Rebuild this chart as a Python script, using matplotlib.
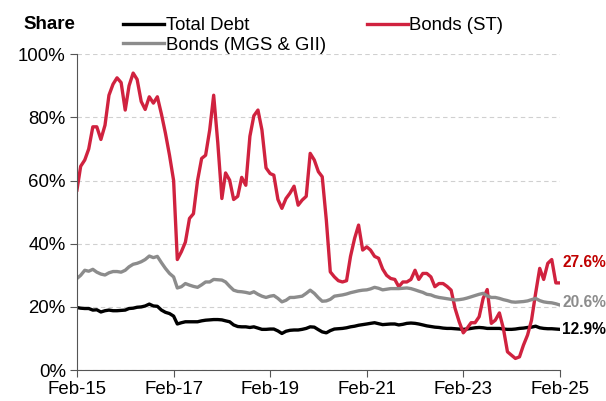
import matplotlib.pyplot as plt
import numpy as np
import pandas as pd
from matplotlib.ticker import FuncFormatter

plt.rcParams["font.family"] = ["Liberation Sans", "DejaVu Sans"]

# monthly shares (%), Feb-15 .. Feb-25
dates = pd.date_range("2015-02-01", periods=121, freq="MS")

total_debt = [
    19.8, 19.6, 19.5, 19.5, 19.0, 19.1, 18.4, 18.8, 19.0, 18.8, 18.8, 18.9,
    19.0, 19.5, 19.6, 19.9, 20.0, 20.3, 20.9, 20.3, 20.2, 19.0, 18.3, 17.9,
    17.1, 14.6, 15.0, 15.3, 15.3, 15.3, 15.3, 15.6, 15.8, 15.9, 16.0, 16.0,
    15.9, 15.6, 15.3, 14.3, 13.8, 13.7, 13.7, 13.5, 13.7, 13.3, 12.9, 12.9,
    13.0, 13.0, 12.4, 11.6, 12.3, 12.6, 12.7, 12.7, 12.9, 13.2, 13.7, 13.6,
    12.8, 12.1, 11.8, 12.5, 13.0, 13.1, 13.2, 13.4, 13.7, 13.9, 14.2, 14.4,
    14.6, 14.8, 15.0, 14.7, 14.4, 14.5, 14.6, 14.6, 14.3, 14.5, 14.8, 14.9,
    14.8, 14.6, 14.3, 14.0, 13.8, 13.6, 13.5, 13.3, 13.2, 13.2, 13.1, 13.0,
    12.9, 13.0, 13.2, 13.4, 13.5, 13.4, 13.2, 13.2, 13.2, 13.2, 13.0, 12.9,
    12.9, 13.0, 13.2, 13.3, 13.5, 13.6, 13.9, 13.4, 13.2, 13.1, 13.1, 13.0,
    12.9,
]

bonds_st = [
    57.0, 64.5, 66.5, 70.0, 77.0, 77.0, 73.0, 77.5, 87.0, 90.5, 92.5, 91.0,
    82.3, 90.0, 94.0, 92.0, 85.0, 82.5, 86.5, 84.5, 86.5, 81.0, 75.0, 68.0,
    60.0, 35.0, 37.5, 40.5, 48.0, 49.5, 60.0, 67.0, 68.0, 76.0, 87.0, 72.0,
    54.3, 62.4, 60.1, 54.0, 55.0, 61.0, 58.5, 74.0, 80.5, 82.3, 76.0, 64.0,
    62.2, 61.7, 54.0, 51.2, 54.3, 56.0, 58.2, 52.2, 53.8, 55.0, 68.6, 66.5,
    62.8, 61.2, 47.5, 31.1, 29.5, 28.3, 27.9, 28.3, 36.0, 41.7, 45.9, 38.0,
    39.0, 38.0, 36.0, 35.4, 32.0, 30.0, 29.0, 28.7, 26.4, 27.9, 27.9, 28.7,
    31.6, 28.7, 30.6, 30.6, 29.5, 26.4, 27.4, 27.4, 26.5, 25.3, 19.5, 15.3,
    11.8, 13.2, 15.0, 15.0, 16.9, 22.7, 25.5, 14.8, 15.8, 18.1, 13.2, 5.8,
    4.7, 3.7, 4.2, 7.9, 11.1, 15.8, 24.3, 32.2, 28.7, 33.8, 35.0, 27.6,
    27.6,
]

bonds_mgs = [
    29.0, 30.0, 31.6, 31.3, 31.9, 31.0, 30.4, 30.1, 30.8, 31.2, 31.2, 31.0,
    31.6, 32.7, 33.5, 33.8, 34.3, 35.0, 36.1, 35.6, 36.0, 34.0, 32.2, 30.6,
    29.5, 26.0, 26.4, 27.4, 26.9, 26.5, 26.2, 27.0, 27.9, 27.9, 28.7, 28.6,
    28.5, 27.9, 26.5, 25.3, 24.9, 24.8, 24.6, 24.3, 24.8, 24.0, 23.4, 23.0,
    23.4, 23.6, 22.7, 21.6, 22.1, 23.0, 23.0, 23.2, 23.4, 24.3, 25.3, 24.3,
    22.9, 21.8, 21.9, 22.4, 23.4, 23.6, 23.8, 24.1, 24.5, 24.8, 25.1, 25.3,
    25.4, 25.7, 26.2, 25.9, 25.4, 25.6, 25.8, 25.8, 25.8, 25.9, 26.0, 25.8,
    25.4, 25.0, 24.6, 24.0, 23.8, 23.3, 23.0, 22.8, 22.6, 22.4, 22.2, 22.3,
    22.5, 22.8, 23.2, 23.6, 24.0, 24.3, 23.5, 23.0, 23.0, 22.7, 22.3, 22.0,
    21.6, 21.5, 21.6, 21.7, 21.9, 22.3, 22.7, 22.0, 21.6, 21.4, 21.3, 21.0,
    20.6,
]

tick_dates = dates[::24]
tick_labels = [d.strftime("%b-%y") for d in tick_dates]

c_total, c_st, c_mgs = "black", "#D0223F", "#8C8C8C"

fig = plt.figure(figsize=(6.06, 4.01), dpi=100)
ax = fig.add_axes([0.127, 0.077, 0.797, 0.788])

l1, = ax.plot(dates, total_debt, color=c_total, lw=2.4, label="Total Debt")
l2, = ax.plot(dates, bonds_st, color=c_st, lw=2.4, label="Bonds (ST)")
l3, = ax.plot(dates, bonds_mgs, color=c_mgs, lw=2.4, label="Bonds (MGS & GII)")

ax.set_xlim(dates[0], dates[-1])
ax.set_ylim(0, 100)
ax.set_yticks(np.arange(0, 101, 20))
ax.yaxis.set_major_formatter(FuncFormatter(lambda v, _: f"{v:.0f}%"))
ax.set_xticks(tick_dates)
ax.set_xticklabels(tick_labels)
ax.tick_params(labelsize=13.4, length=5, color="#555555", pad=3)
ax.yaxis.grid(True, ls=(0, (4, 3)), color="#D0D0D0", lw=0.8)
ax.set_axisbelow(True)
for s in ["top", "right"]:
    ax.spines[s].set_visible(False)
for s in ["left", "bottom"]:
    ax.spines[s].set_color("#555555")

# end-of-series labels
ends = [(bonds_st, "#C00000", 6.5), (bonds_mgs, c_mgs, 0.8), (total_debt, c_total, 0.0)]
for series, col, dy in ends:
    ax.annotate(f"{series[-1]:.1f}%", xy=(dates[-1], series[-1] + dy),
                xytext=(1.5, 0), textcoords="offset points", va="center",
                ha="left", fontsize=11.2, fontweight="bold", color=col,
                annotation_clip=False)

fig.text(0.082, 0.94, "Share", fontsize=13.5, fontweight="bold", ha="center", va="center")

fig.legend(handles=[l1, l3, l2], ncol=2, loc="upper left",
           bbox_to_anchor=(0.181, 0.99), frameon=False, fontsize=13.4,
           handlelength=2.2, handletextpad=0.1, columnspacing=2.2,
           labelspacing=0.15, borderaxespad=0.3)

fig.savefig("out.png", dpi=100)
